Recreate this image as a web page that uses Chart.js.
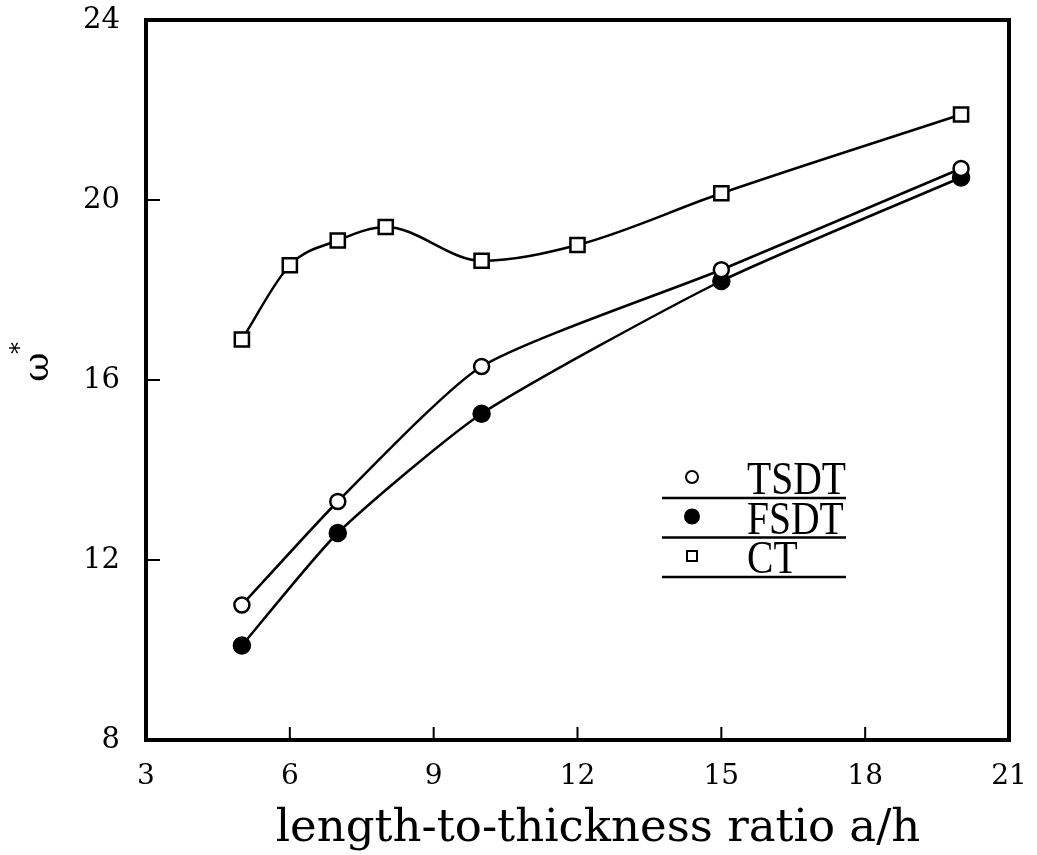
<!DOCTYPE html>
<html>
<head>
<meta charset="utf-8">
<script src="https://cdn.jsdelivr.net/npm/chart.js@4.4.1/dist/chart.umd.min.js"></script>
<style>
  html, body { margin: 0; padding: 0; background: #fff; }
  canvas { display: block; }
</style>
</head>
<body>
<canvas id="chart" width="1037" height="855"></canvas>
<script>
// Frequency parameter vs. length-to-thickness ratio for three plate theories
const ratioTSDT = [5, 7, 10, 15, 20];
const omegaTSDT = [11.0, 13.3, 16.3, 18.45, 20.7];

const ratioFSDT = [5, 7, 10, 15, 20];
const omegaFSDT = [10.1, 12.6, 15.25, 18.2, 20.5];

const ratioCT = [5, 6, 7, 8, 10, 12, 15, 20];
const omegaCT = [16.9, 18.55, 19.1, 19.4, 18.65, 19.0, 20.15, 21.9];

const xTicks = [3, 6, 9, 12, 15, 18, 21];
const yTicks = [8, 12, 16, 20, 24];

const seriesLabels = ['TSDT', 'FSDT', 'CT'];
const xTitle = 'length-to-thickness ratio a/h';
const yTitle = 'ω';
const yTitleMark = '*';

const toPoints = (xs, ys) => xs.map((x, i) => ({ x: x, y: ys[i] }));

const INK = '#000';
const SERIF = '"DejaVu Serif", serif';

// Frame, inward tick marks, ruled legend and axis titles
const paperPlot = {
  id: 'paperPlot',
  afterDraw(chart) {
    const ctx = chart.ctx;
    const a = chart.chartArea;
    const xs = chart.scales.x, ys = chart.scales.y;
    ctx.save();
    ctx.strokeStyle = INK;
    ctx.fillStyle = INK;

    // box frame
    ctx.lineWidth = 4;
    ctx.lineJoin = 'miter';
    ctx.strokeRect(a.left, a.top, a.right - a.left, a.bottom - a.top);

    // tick marks pointing into the plot
    ctx.lineWidth = 2;
    ctx.beginPath();
    ys.ticks.forEach(t => {
      if (t.value === ys.min || t.value === ys.max) return;
      const py = ys.getPixelForValue(t.value);
      ctx.moveTo(a.left, py);
      ctx.lineTo(a.left + 14, py);
    });
    xs.ticks.forEach(t => {
      if (t.value === xs.min || t.value === xs.max) return;
      const px = xs.getPixelForValue(t.value);
      ctx.moveTo(px, a.bottom);
      ctx.lineTo(px, a.bottom - 13);
    });
    ctx.stroke();

    // legend: symbol, label, rule underneath each entry
    const lgLeft = 662, lgRight = 846, lgTop = 458, rowH = 39.5;
    const symX = 692, textX = 747;
    chart.data.datasets.forEach((ds, i) => {
      const top = lgTop + i * rowH;
      const cy = top + 19;
      ctx.lineWidth = 2;
      ctx.beginPath();
      if (ds.pointStyle === 'rect') {
        ctx.rect(symX - 5, cy - 5, 10, 10);
      } else {
        ctx.arc(symX, cy, ds.pointBackgroundColor === INK ? 7 : 6, 0, Math.PI * 2);
      }
      ctx.fillStyle = ds.pointBackgroundColor;
      ctx.fill();
      ctx.stroke();

      ctx.fillStyle = INK;
      ctx.save();
      ctx.translate(textX, top + 36);
      ctx.scale(0.86, 1);
      ctx.font = '46px "Liberation Serif", serif';
      ctx.textAlign = 'left';
      ctx.textBaseline = 'alphabetic';
      ctx.fillText(ds.label, 0, 0);
      ctx.restore();

      ctx.lineWidth = 2.5;
      ctx.beginPath();
      ctx.moveTo(lgLeft, top + 40);
      ctx.lineTo(lgRight, top + 40);
      ctx.stroke();
    });

    // x axis title
    ctx.fillStyle = INK;
    ctx.font = '45px ' + SERIF;
    ctx.textAlign = 'center';
    ctx.textBaseline = 'alphabetic';
    ctx.fillText(xTitle, 598, 841);

    // y axis title, rotated, with its superscript mark
    ctx.save();
    ctx.translate(38, 367);
    ctx.rotate(-Math.PI / 2);
    ctx.font = '36px ' + SERIF;
    ctx.textAlign = 'center';
    ctx.textBaseline = 'alphabetic';
    ctx.fillText(yTitle, 0, 10);
    ctx.font = '24px ' + SERIF;
    ctx.fillText(yTitleMark, 19, -11);
    ctx.restore();

    ctx.restore();
  }
};

const lineStyle = {
  borderColor: INK,
  borderWidth: 2.5,
  pointBorderColor: INK,
  pointBorderWidth: 2.5,
  fill: false
};

new Chart(document.getElementById('chart'), {
  type: 'line',
  data: {
    datasets: [
      Object.assign({
        label: seriesLabels[0],
        data: toPoints(ratioTSDT, omegaTSDT),
        pointStyle: 'circle',
        pointRadius: 7.5,
        pointBackgroundColor: '#fff',
        tension: 0.2
      }, lineStyle),
      Object.assign({
        label: seriesLabels[1],
        data: toPoints(ratioFSDT, omegaFSDT),
        pointStyle: 'circle',
        pointRadius: 8,
        pointBackgroundColor: INK,
        tension: 0.2
      }, lineStyle),
      Object.assign({
        label: seriesLabels[2],
        data: toPoints(ratioCT, omegaCT),
        pointStyle: 'rect',
        pointRadius: 10,
        pointBackgroundColor: '#fff',
        cubicInterpolationMode: 'monotone'
      }, lineStyle)
    ]
  },
  options: {
    responsive: false,
    animation: false,
    devicePixelRatio: 1,
    layout: { padding: { top: 20, right: 28, bottom: 0, left: 0 } },
    plugins: {
      legend: { display: false },
      tooltip: { enabled: false }
    },
    scales: {
      x: {
        type: 'linear',
        min: xTicks[0],
        max: xTicks[xTicks.length - 1],
        afterBuildTicks: s => { s.ticks = xTicks.map(v => ({ value: v })); },
        afterFit: s => { s.height = 115; s.paddingLeft = 0; s.paddingRight = 0; },
        grid: { display: false, drawTicks: false },
        border: { display: false },
        ticks: { color: INK, padding: 20, font: { family: SERIF, size: 28 }, maxRotation: 0 }
      },
      y: {
        type: 'linear',
        min: yTicks[0],
        max: yTicks[yTicks.length - 1],
        afterBuildTicks: s => { s.ticks = yTicks.map(v => ({ value: v })); },
        afterFit: s => { s.width = 146; s.paddingTop = 0; s.paddingBottom = 0; },
        grid: { display: false, drawTicks: false },
        border: { display: false },
        ticks: { color: INK, padding: 26, font: { family: SERIF, size: 29 } }
      }
    }
  },
  plugins: [paperPlot]
});
</script>
</body>
</html>
